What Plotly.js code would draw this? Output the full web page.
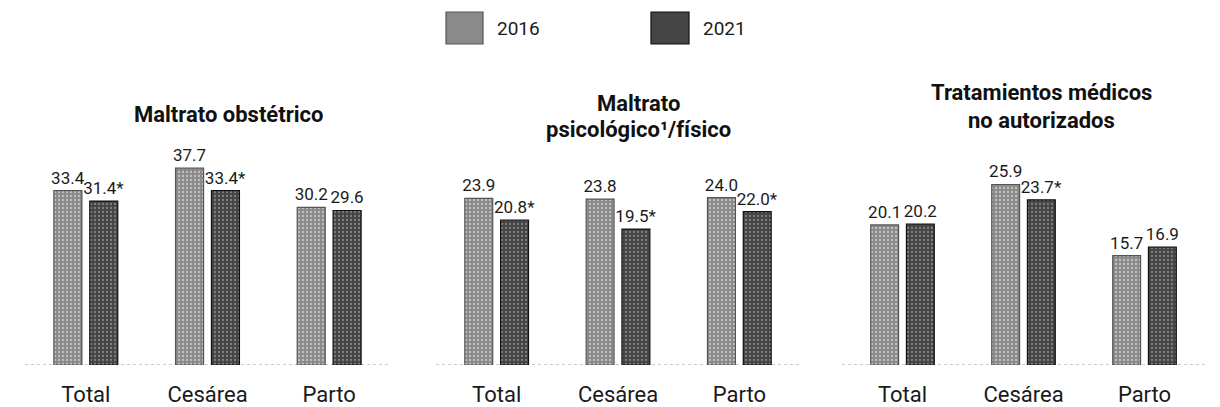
<!DOCTYPE html>
<html>
<head>
<meta charset="utf-8">
<script src="https://cdn.plot.ly/plotly-3.0.1.min.js"></script>
<style>html,body{margin:0;padding:0;background:#fff;}#chart{width:1220px;height:407px;}</style>
</head>
<body>
<div id="chart"></div>
<script>
// ---- data ----
var categories = ['Total', 'Cesárea', 'Parto'];
var years = ['2016', '2021'];
var panelTitles = [
  ['Maltrato obstétrico'],
  ['Maltrato', 'psicológico¹/físico'],
  ['Tratamientos médicos', 'no autorizados']
];
var obstetrico2016 = [33.4, 37.7, 30.2];
var obstetrico2021 = [31.4, 33.4, 29.6];
var obstetricoSig2021 = [true, true, false];
var psicologico2016 = [23.9, 23.8, 24.0];
var psicologico2021 = [20.8, 19.5, 22.0];
var psicologicoSig2021 = [true, true, true];
var tratamientos2016 = [20.1, 25.9, 15.7];
var tratamientos2021 = [20.2, 23.7, 16.9];
var tratamientosSig2021 = [false, true, false];

// ---- styling ----
var colors = {'2016': '#8a8a8a', '2021': '#444444'};
var lineColors = {'2016': '#555555', '2021': '#111111'};
var patFg = {'2016': '#c4c4c4', '2021': '#808080'};
var FONT = 'Roboto, "Noto Sans", sans-serif';

var series = [
  [obstetrico2016, obstetrico2021, obstetricoSig2021],
  [psicologico2016, psicologico2021, psicologicoSig2021],
  [tratamientos2016, tratamientos2021, tratamientosSig2021]
];

function fmt(v, s) { return v.toFixed(1) + (s ? '*' : ''); }

var traces = [];
series.forEach(function (s, i) {
  var ax = i === 0 ? '' : String(i + 1);
  [0, 1].forEach(function (k) {
    var yr = years[k];
    var vals = s[k];
    traces.push({
      type: 'bar',
      name: yr,
      x: categories,
      y: vals,
      xaxis: 'x' + ax,
      yaxis: 'y' + ax,
      text: vals.map(function (v, j) { return k === 1 ? fmt(v, s[2][j]) : fmt(v, false); }),
      textposition: 'outside',
      constraintext: 'none',
      cliponaxis: false,
      textfont: {family: FONT, size: 17, color: '#1a1a1a'},
      marker: {
        color: colors[yr],
        line: {color: lineColors[yr], width: 1.2},
        pattern: {shape: '.', fgcolor: patFg[yr], bgcolor: colors[yr], size: 4, solidity: 0.25, fillmode: 'replace'}
      },
      showlegend: false,
      hoverinfo: 'x+y'
    });
  });
});

var W = 1220, H = 407;
function px(x) { return x / W; }
function py(y) { return (H - y) / H; }

var xDomains = [[px(25), px(390)], [px(436), px(800)], [px(842), px(1205)]];
var yDomain = [py(365), py(150)];
var yMax = [215 / 5.22, 215 / 6.97, 215 / 6.97];

var layout = {
  width: W, height: H,
  margin: {l: 0, r: 0, t: 0, b: 0},
  paper_bgcolor: '#ffffff',
  plot_bgcolor: '#ffffff',
  barmode: 'group',
  bargap: 0.41,
  bargroupgap: 0.22,
  font: {family: FONT, color: '#1a1a1a'},
  showlegend: false,
  annotations: [],
  shapes: []
};

for (var i = 0; i < 3; i++) {
  var ax = i === 0 ? '' : String(i + 1);
  layout['xaxis' + ax] = {
    domain: xDomains[i],
    anchor: 'y' + ax,
    type: 'category',
    showgrid: false, zeroline: false, showline: false,
    ticks: 'outside', ticklen: 10, tickcolor: 'rgba(0,0,0,0)',
    tickfont: {family: FONT, size: 22, color: '#1a1a1a'},
    fixedrange: true
  };
  layout['yaxis' + ax] = {
    domain: yDomain,
    anchor: 'x' + ax,
    range: [0, yMax[i]],
    visible: false,
    fixedrange: true
  };
  // dotted baseline
  layout.shapes.push({
    type: 'line', xref: 'x' + ax + ' domain', yref: 'y' + ax,
    x0: 0, x1: 1, y0: 0, y1: 0,
    line: {color: '#9a9a9a', width: 1, dash: 'dot'},
    layer: 'below'
  });
}

// panel titles
var titleX = [228, 638, 1041];
var titleY = [[115], [103, 129], [93, 121]];
panelTitles.forEach(function (lines, i) {
  lines.forEach(function (t, j) {
    layout.annotations.push({
      text: '<b>' + t + '</b>',
      xref: 'paper', yref: 'paper',
      x: px(titleX[i]), y: py(titleY[i][j]),
      xanchor: 'center', yanchor: 'middle',
      showarrow: false,
      font: {family: FONT, size: 22, color: '#111111'}
    });
  });
});

// legend (manual)
var legendSq = [[446, 483], [651, 689]];
years.forEach(function (yr, k) {
  layout.shapes.push({
    type: 'rect', xref: 'paper', yref: 'paper',
    x0: px(legendSq[k][0]), x1: px(legendSq[k][1]), y0: py(44), y1: py(12),
    fillcolor: colors[yr], line: {color: lineColors[yr], width: 1.2}
  });
  layout.annotations.push({
    text: yr, xref: 'paper', yref: 'paper',
    x: px(legendSq[k][1] + 12), y: py(29),
    xanchor: 'left', yanchor: 'middle', showarrow: false,
    font: {family: FONT, size: 19, color: '#1a1a1a'}
  });
});

Plotly.newPlot('chart', traces, layout, {displayModeBar: false, staticPlot: true});
</script>
</body>
</html>
